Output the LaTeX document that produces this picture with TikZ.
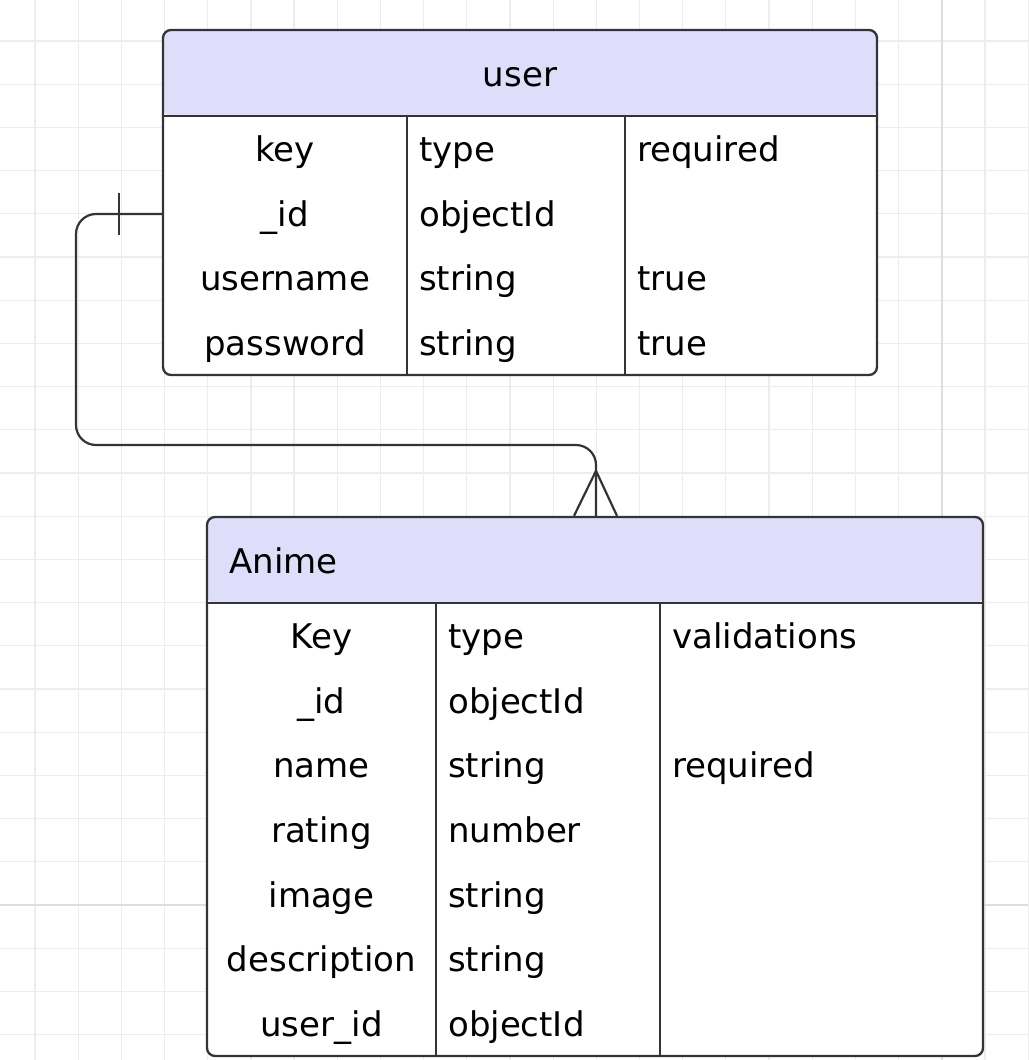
\documentclass[tikz,border=0pt]{standalone}
\usepackage{fontspec}
\setmainfont{DejaVu Sans}
\usetikzlibrary{positioning}
\definecolor{linec}{HTML}{333338}
\definecolor{hdrfill}{HTML}{DEDEFA}
\definecolor{gridmin}{HTML}{EDEDED}
\definecolor{gridmaj}{HTML}{DEDEDE}

\begin{document}
\begin{tikzpicture}[
    x=1pt, y=-1pt,
    tablebox/.style={draw=linec, line width=2.3pt, rounded corners=8pt, fill=white, inner sep=0pt,
        path picture={\fill[hdrfill] (path picture bounding box.north west)
            rectangle ([yshift=-86pt]path picture bounding box.north east);}},
    cell/.style={inner sep=0pt, font=\fontsize{34}{41}\selectfont, text=black},
    rule/.style={draw=linec, line width=2.2pt},
    rel/.style={draw=linec, line width=2.2pt, rounded corners=20pt}
]
    \useasboundingbox (0,0) rectangle (1028,1060);
    \fill[white] (0,0) rectangle (1028,1060);

    % grid
    \foreach \gx in {0,...,23}
        \draw[gridmin, line width=1.2pt] ({35+43.18*\gx},0) -- ({35+43.18*\gx},1060);
    \foreach \gy in {0,...,23}
        \draw[gridmin, line width=1.2pt] (0,{41+43.2*\gy}) -- (1028,{41+43.2*\gy});
    \draw[gridmaj, line width=2pt] (941.8,0) -- (941.8,1060);
    \draw[gridmaj, line width=2pt] (0,905) -- (1028,905);

    % user
    \node[tablebox, minimum width=714pt, minimum height=345pt] (user) at (520,202.5) {};
    \draw[rule] (user.west |- 0,116) -- (user.east |- 0,116);
    \draw[rule] (407,116) -- (user.south -| 407,0);
    \draw[rule] (625,116) -- (user.south -| 625,0);
    \node[cell, anchor=base] (usertitle) at (520,86) {user};
    \foreach \k/\t/\r [count=\i] in {key/type/required, \_id/objectId/, username/string/true, password/string/true} {
        \node[cell, anchor=base] (ukey\i) at (285,{116+64.75*(\i-0.5)+13}) {\k};
        \node[cell, anchor=base west] (utype\i) at (419,{116+64.75*(\i-0.5)+13}) {\t};
        \node[cell, anchor=base west] (ureq\i) at (637,{116+64.75*(\i-0.5)+13}) {\r};
    }

    % Anime
    \node[tablebox, minimum width=776pt, minimum height=539pt] (anime) at (595,786.5) {};
    \draw[rule] (anime.west |- 0,603) -- (anime.east |- 0,603);
    \draw[rule] (436,603) -- (anime.south -| 436,0);
    \draw[rule] (660,603) -- (anime.south -| 660,0);
    \node[cell, anchor=base west] (animetitle) at (229,573) {Anime};
    \foreach \k/\t/\r [count=\i] in {Key/type/validations, \_id/objectId/, name/string/required,
            rating/number/, image/string/, description/string/, user\_id/objectId/} {
        \node[cell, anchor=base] (akey\i) at (321.5,{603+64.7*(\i-0.5)+13}) {\k};
        \node[cell, anchor=base west] (atype\i) at (448,{603+64.7*(\i-0.5)+13}) {\t};
        \node[cell, anchor=base west] (aval\i) at (672,{603+64.7*(\i-0.5)+13}) {\r};
    }

    % relation user 1 -- n Anime
    \coordinate (src) at (user.west |- 0,214);
    \coordinate (dst) at (anime.north -| 596,0);
    \draw[rel] (src) -- (76,214) -- (76,445) -- (596,445) -- (dst);
    \draw[rule] ([xshift=-43pt,yshift=21pt]src) -- ([xshift=-43pt,yshift=-21pt]src);
    \draw[rule] ([xshift=-22pt]dst) -- ([yshift=45pt]dst) -- ([xshift=21pt]dst);
\end{tikzpicture}
\end{document}
